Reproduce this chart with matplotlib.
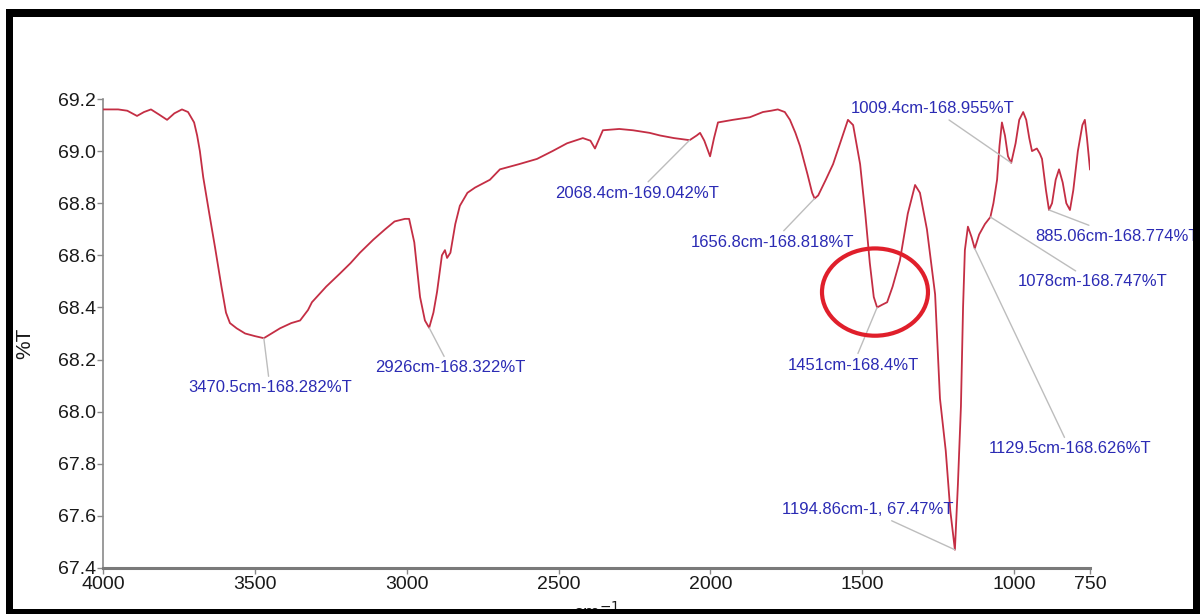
import matplotlib
matplotlib.use("Agg")
import matplotlib.pyplot as plt
from matplotlib.patches import Ellipse, Rectangle

plt.rcParams["font.family"] = ["Liberation Sans", "DejaVu Sans"]

# FTIR spectrum: wavenumber (cm-1) and transmittance (%T)
wavenumber = [
    4000, 3950, 3920, 3888, 3865, 3842, 3815, 3789, 3765, 3740, 3720, 3700,
    3690, 3681, 3670, 3650, 3631, 3610, 3595, 3582, 3560, 3532, 3500, 3470.5,
    3445, 3417, 3380, 3351, 3325, 3312, 3265, 3220, 3185, 3154, 3110, 3071,
    3040, 3006, 2992, 2975, 2956, 2940, 2926, 2912, 2900, 2884, 2874, 2867,
    2856, 2840, 2825, 2800, 2775, 2726, 2693, 2630, 2571, 2520, 2472, 2420,
    2395, 2380, 2365, 2354, 2300, 2255, 2200, 2166, 2120, 2068.4, 2045, 2034,
    2020, 2001, 1988, 1975, 1950, 1926, 1870, 1827, 1800, 1778, 1755, 1738,
    1720, 1705, 1680, 1665, 1656.8, 1645, 1620, 1596, 1570, 1547, 1530, 1507,
    1490, 1475, 1462, 1451, 1435, 1418, 1400, 1376, 1350, 1326, 1310, 1287,
    1260, 1244, 1225, 1210, 1194.86, 1185, 1175, 1168, 1162, 1152, 1140,
    1129.5, 1115, 1096, 1078, 1068, 1056, 1048, 1040, 1030, 1020, 1009.4, 995,
    983, 970, 960, 950, 941, 925, 915, 908, 895, 885.06, 875, 863, 852, 840,
    828, 816, 805, 790, 775, 767, 760, 750,
]
transmittance = [
    69.16, 69.16, 69.155, 69.135, 69.15, 69.16, 69.14, 69.12, 69.145, 69.16, 69.15, 69.11,
    69.06, 69.00, 68.90, 68.76, 68.63, 68.48, 68.38, 68.34, 68.32, 68.30, 68.29, 68.282,
    68.30, 68.32, 68.34, 68.35, 68.39, 68.42, 68.48, 68.53, 68.57, 68.61, 68.66, 68.70,
    68.73, 68.74, 68.74, 68.65, 68.44, 68.35, 68.322, 68.38, 68.46, 68.60, 68.62, 68.59,
    68.61, 68.72, 68.79, 68.84, 68.86, 68.89, 68.93, 68.95, 68.97, 69.00, 69.03, 69.05,
    69.04, 69.01, 69.05, 69.08, 69.085, 69.08, 69.07, 69.06, 69.05, 69.042, 69.06, 69.07,
    69.04, 68.98, 69.05, 69.11, 69.115, 69.12, 69.13, 69.15, 69.155, 69.16, 69.15, 69.12,
    69.07, 69.02, 68.91, 68.84, 68.818, 68.83, 68.89, 68.95, 69.04, 69.12, 69.10, 68.95,
    68.76, 68.57, 68.44, 68.40, 68.41, 68.42, 68.48, 68.58, 68.76, 68.87, 68.84, 68.70,
    68.45, 68.05, 67.85, 67.62, 67.47, 67.72, 68.02, 68.40, 68.62, 68.71, 68.67,
    68.626, 68.68, 68.72, 68.747, 68.80, 68.89, 69.02, 69.11, 69.06, 68.98, 68.955, 69.03,
    69.12, 69.15, 69.12, 69.05, 69.00, 69.01, 68.99, 68.97, 68.85, 68.774, 68.80, 68.89, 68.93, 68.88,
    68.80, 68.774, 68.85, 69.00, 69.10, 69.12, 69.05, 68.93,
]

# Labelled bands: position, %T, label position (cm-1, %T)
peak_wn = [3470.5, 2926, 2068.4, 1656.8, 1451, 1129.5, 1078, 885.06, 1009.4]
peak_t = [68.282, 68.322, 69.042, 68.818, 68.4, 68.626, 68.747, 68.774, 68.955]
label_x = [3450, 2857, 2242, 1794, 1530, 816, 740, 661, 1267]
label_y = [68.091, 68.168, 68.839, 68.651, 68.179, 67.857, 68.498, 68.674, 69.162]

main_wn, main_t = 1194.86, 67.47
main_label_xy = (1481, 67.623)

x_ticks = [4000, 3500, 3000, 2500, 2000, 1500, 1000, 750]
x_ticklabels = ["4000", "3500", "3000", "2500", "2000", "1500", "1000", "750"]
y_ticks = [67.4, 67.6, 67.8, 68.0, 68.2, 68.4, 68.6, 68.8, 69.0, 69.2]

W, H = 1200, 614
fig = plt.figure(figsize=(W / 100, H / 100), dpi=100)
ax = fig.add_axes([103 / W, 1 - 568 / H, (1090 - 103) / W, (568 - 99) / H])
ax.patch.set_alpha(0)

ax.plot(wavenumber, transmittance, color="#c42e44", lw=1.3, zorder=3)

ax.set_xlim(4000, 750)
ax.set_ylim(67.4, 69.2)
ax.set_xticks(x_ticks)
ax.set_xticklabels(x_ticklabels)
ax.set_yticks(y_ticks)
ax.set_yticklabels([f"{v:.1f}" for v in y_ticks])

for side in ("top", "right"):
    ax.spines[side].set_visible(False)
ax.spines["left"].set_color("#8a8a8a")
ax.spines["left"].set_linewidth(1.2)
ax.spines["bottom"].set_color("#7a7a7a")
ax.spines["bottom"].set_linewidth(2.2)
ax.tick_params(axis="both", direction="out", length=4, width=1, color="#8a8a8a",
               labelsize=14, labelcolor="#1a1a1a")
ax.tick_params(axis="y", pad=1)
ax.tick_params(axis="x", pad=2)

# Y-axis title placed by hand beside the tick labels
fig.text(25 / W, 1 - 343 / H, "%T", rotation=90, ha="center", va="center",
         fontsize=15, color="#1a1a1a")

leader = dict(arrowstyle="-", color="#bdbdbd", lw=1.0, shrinkA=1, shrinkB=0)
text_color = "#2b2bb4"
for wn, t, lx, ly in zip(peak_wn, peak_t, label_x, label_y):
    ax.annotate(f"{wn:g}cm-1{t:g}%T", xy=(wn, t), xytext=(lx, ly),
                ha="center", va="center", fontsize=12, color=text_color,
                arrowprops=leader, annotation_clip=False, zorder=4)
ax.annotate(f"{main_wn:g}cm-1, {main_t:g}%T", xy=(main_wn, main_t),
            xytext=main_label_xy, ha="center", va="center", fontsize=12,
            color=text_color, arrowprops=leader, annotation_clip=False, zorder=4)

# Highlight around the 1451 cm-1 band
ax.add_patch(Ellipse((1458, 68.459), 349, 0.335, fill=False,
                     edgecolor="#e01f2b", lw=3.0, zorder=5))

fig.text(596 / W, 1 - 601 / H, "cm$^{-1}$", ha="center", va="top",
         fontsize=14, color="#1a1a1a")

# Heavy black frame round the figure
def frame_bar(x0, y0, x1, y1):
    fig.add_artist(Rectangle((x0 / W, 1 - y1 / H), (x1 - x0) / W, (y1 - y0) / H,
                             transform=fig.transFigure, facecolor="black",
                             edgecolor="none", zorder=10))

frame_bar(6, 9, 1200, 17)
frame_bar(6, 9, 13, 614)
frame_bar(1193, 9, 1200, 614)
frame_bar(6, 609, 1200, 614)

fig.savefig("out.png", dpi=100, facecolor="white")
